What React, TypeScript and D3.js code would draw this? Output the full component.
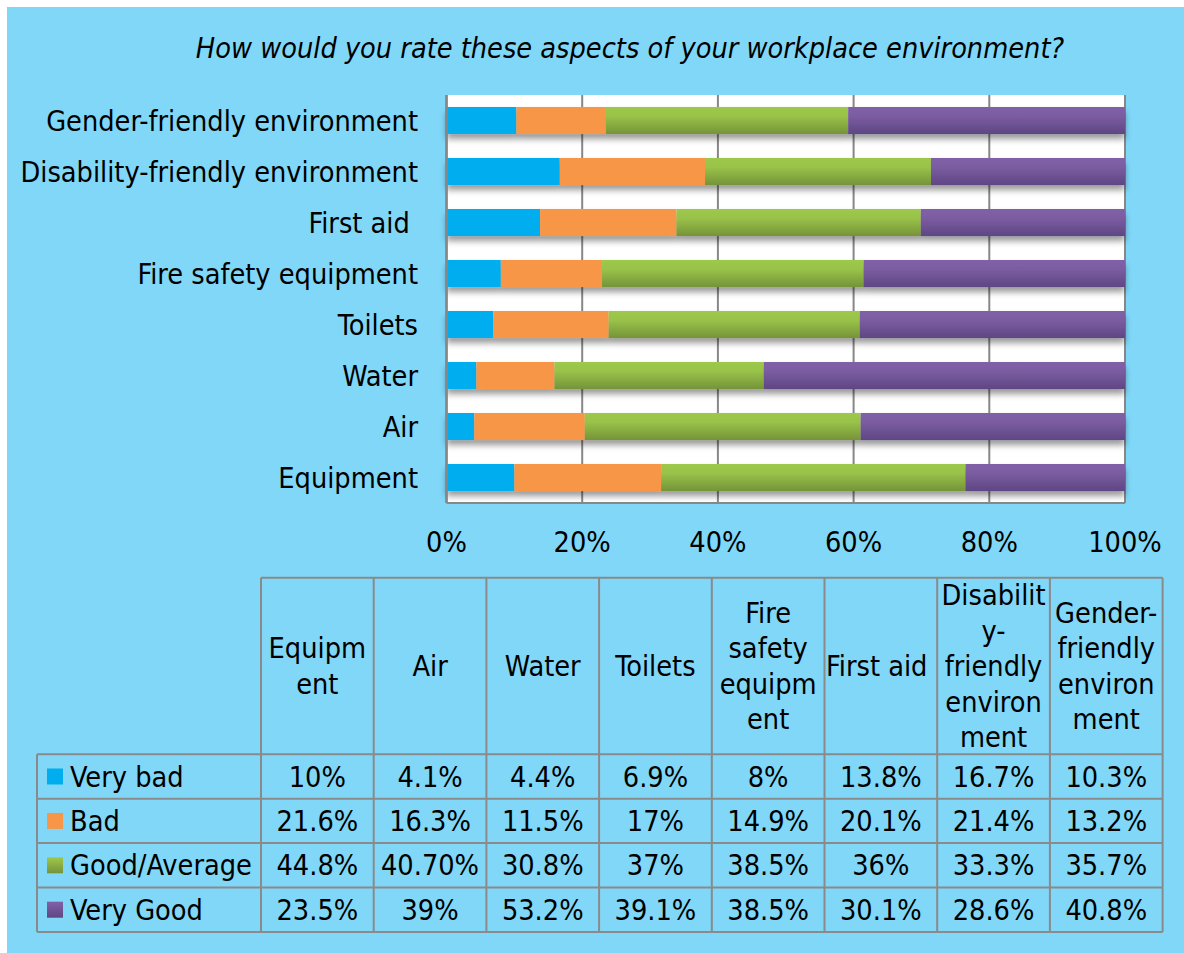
import React from "react";
import * as d3 from "d3";

const TITLE = "How would you rate these aspects of your workplace environment?";

const categories = [
  "Equipment",
  "Air",
  "Water",
  "Toilets",
  "Fire safety equipment",
  "First aid ",
  "Disability-friendly environment",
  "Gender-friendly environment",
];

const headerLines = [
  ["Equipm", "ent"],
  ["Air"],
  ["Water"],
  ["Toilets"],
  ["Fire", "safety", "equipm", "ent"],
  ["First aid "],
  ["Disabilit", "y-", "friendly", "environ", "ment"],
  ["Gender-", "friendly", "environ", "ment"],
];

const seriesNames = ["Very bad", "Bad", "Good/Average", "Very Good"];

const veryBad = ["10", "4.1", "4.4", "6.9", "8", "13.8", "16.7", "10.3"];
const bad = ["21.6", "16.3", "11.5", "17", "14.9", "20.1", "21.4", "13.2"];
const goodAverage = ["44.8", "40.70", "30.8", "37", "38.5", "36", "33.3", "35.7"];
const veryGood = ["23.5", "39", "53.2", "39.1", "38.5", "30.1", "28.6", "40.8"];

const seriesValues = [veryBad, bad, goodAverage, veryGood];

const ticks = [0, 0.2, 0.4, 0.6, 0.8, 1];

const FONT = "'DejaVu Sans Condensed', 'DejaVu Sans', sans-serif";
const FS = 28.6;

export default function App() {
  const W = 1184;
  const H = 953;

  const plotL = 446.5;
  const plotR = 1125;
  const plotT = 95;
  const plotB = 503;

  const x = d3.scaleLinear().domain([0, 1]).range([plotL, plotR]);
  const y = d3
    .scaleBand<string>()
    .domain(categories.slice().reverse())
    .range([plotT, plotB])
    .paddingInner(0.47)
    .paddingOuter(0.235);

  const rows = categories.map((c, i) => {
    const r: any = { cat: c };
    seriesNames.forEach((s, k) => {
      r[s] = +seriesValues[k][i];
    });
    return r;
  });
  const stack = d3.stack<any>().keys(seriesNames).offset(d3.stackOffsetExpand);
  const stacked = stack(rows);

  const fills = ["#00AEEF", "#F79646", "url(#gGreen)", "url(#gPurple)"];
  const legendFills = ["#00AEEF", "#F79646", "url(#gGreenL)", "url(#gPurpleL)"];

  // table geometry
  const tLeft = 37;
  const cLeft = 261;
  const colW = 112.7;
  const headTop = 577.7;
  const headBot = 754.3;
  const rowH = 44.4;
  const tx = d3.scaleBand<string>().domain(categories).range([cLeft, cLeft + colW * categories.length]);
  const tRight = cLeft + colW * categories.length;
  const tBot = headBot + rowH * seriesNames.length;
  const gridC = "#8a8a8a";
  const headCenter = (headTop + headBot) / 2;
  const lineH = 35.5;

  return (
    <svg
      width={W}
      height={H}
      style={{ position: "absolute", left: 0, top: 0, display: "block" }}
      fontFamily={FONT}
      fontStretch="condensed"
    >
      <defs>
        <linearGradient id="gGreen" x1="0" y1="0" x2="0" y2="1">
          <stop offset="0" stopColor="#9DC94B" />
          <stop offset="0.35" stopColor="#98C248" />
          <stop offset="1" stopColor="#75933A" />
        </linearGradient>
        <linearGradient id="gPurple" x1="0" y1="0" x2="0" y2="1">
          <stop offset="0" stopColor="#8160A8" />
          <stop offset="0.35" stopColor="#7B5CA1" />
          <stop offset="1" stopColor="#5E4683" />
        </linearGradient>
        <linearGradient id="gGreenL" x1="0" y1="0" x2="0" y2="1">
          <stop offset="0" stopColor="#9DC94B" />
          <stop offset="1" stopColor="#75933A" />
        </linearGradient>
        <linearGradient id="gPurpleL" x1="0" y1="0" x2="0" y2="1">
          <stop offset="0" stopColor="#8160A8" />
          <stop offset="1" stopColor="#5E4683" />
        </linearGradient>
        <filter id="shadow" x="-5%" y="-50%" width="110%" height="250%">
          <feDropShadow dx="0" dy="5" stdDeviation="3" floodColor="#000" floodOpacity="0.4" />
        </filter>
      </defs>

      <rect x={7} y={7} width={W - 7} height={H - 7} fill="#80D7F8" />

      <text
        x={630}
        y={58}
        textAnchor="middle"
        fontStyle="italic"
        fontSize={FS}
        fill="#000"
      >
        {TITLE}
      </text>

      {/* plot area */}
      <rect x={plotL} y={plotT} width={plotR - plotL} height={plotB - plotT} fill="#fff" />
      {ticks.map((t) => (
        <line key={t} x1={x(t)} x2={x(t)} y1={plotT} y2={plotB} stroke="#878787" strokeWidth={2} />
      ))}

      {categories.map((c, i) => (
        <g key={c} filter="url(#shadow)">
          {stacked.map((s, k) => (
            <rect
              key={k}
              x={x(s[i][0])}
              y={y(c)}
              width={x(s[i][1]) - x(s[i][0])}
              height={y.bandwidth()}
              fill={fills[k]}
            />
          ))}
        </g>
      ))}

      <line x1={plotL} x2={plotL} y1={plotT} y2={plotB} stroke="#878787" strokeWidth={2.5} />
      <line x1={plotL} x2={plotR} y1={plotB} y2={plotB} stroke="#878787" strokeWidth={2} />

      {categories.map((c) => (
        <text
          key={c}
          x={418}
          y={(y(c) as number) + y.bandwidth() / 2}
          textAnchor="end"
          dominantBaseline="central"
          fontSize={FS}
          style={{ whiteSpace: "pre" }}
        >
          {c}
        </text>
      ))}

      {ticks.map((t) => (
        <text key={t} x={x(t)} y={552} textAnchor="middle" fontSize={FS}>
          {d3.format(".0%")(t)}
        </text>
      ))}

      {/* table */}
      {categories.map((c, i) => {
        const lines = headerLines[i];
        const n = lines.length;
        const cx = (tx(c) as number) + colW / 2;
        return (
          <g key={c}>
            {lines.map((ln, j) => (
              <text
                key={j}
                x={cx}
                y={headCenter + (j - (n - 1) / 2) * lineH}
                textAnchor="middle"
                dominantBaseline="central"
                fontSize={FS}
                style={{ whiteSpace: "pre" }}
              >
                {ln}
              </text>
            ))}
            {seriesNames.map((s, k) => (
              <text
                key={s}
                x={cx}
                y={headBot + rowH * k + rowH / 2}
                textAnchor="middle"
                dominantBaseline="central"
                fontSize={FS}
              >
                {seriesValues[k][i] + "%"}
              </text>
            ))}
          </g>
        );
      })}

      {seriesNames.map((s, k) => (
        <g key={s}>
          <rect x={47} y={headBot + rowH * k + rowH / 2 - 8} width={16} height={16} fill={legendFills[k]} />
          <text x={70} y={headBot + rowH * k + rowH / 2} dominantBaseline="central" fontSize={FS}>
            {s}
          </text>
        </g>
      ))}

      <g stroke={gridC} strokeWidth={2} fill="none">
        <line x1={cLeft} x2={tRight} y1={headTop} y2={headTop} />
        {seriesNames.map((s, k) => (
          <line key={s} x1={tLeft} x2={tRight} y1={headBot + rowH * k} y2={headBot + rowH * k} />
        ))}
        <line x1={tLeft} x2={tRight} y1={tBot} y2={tBot} />
        <line x1={tLeft} x2={tLeft} y1={headBot} y2={tBot} />
        {d3.range(categories.length + 1).map((j) => (
          <line key={j} x1={cLeft + colW * j} x2={cLeft + colW * j} y1={headTop} y2={tBot} />
        ))}
      </g>
    </svg>
  );
}
